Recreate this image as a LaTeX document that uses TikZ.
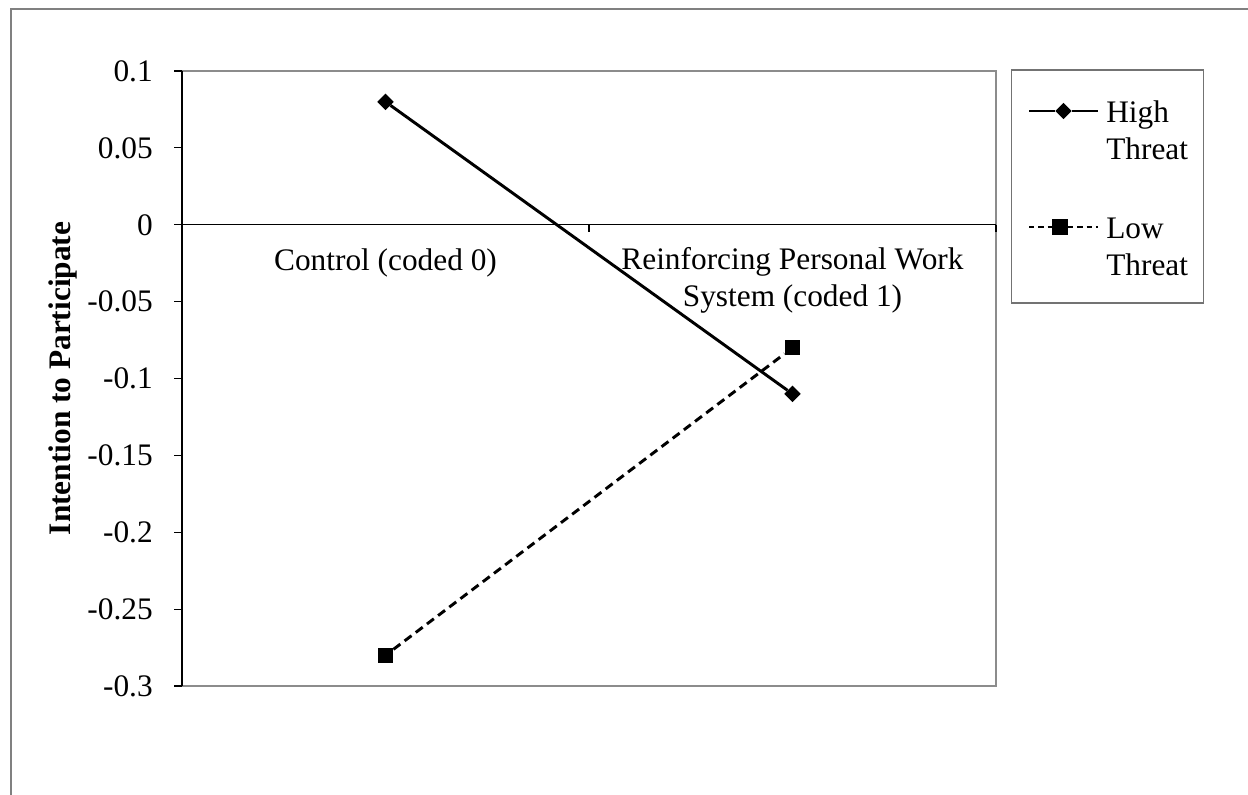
\documentclass[tikz,border=0pt]{standalone}
\usepackage{fontspec}
\setmainfont{Liberation Serif}
\usetikzlibrary{shapes.geometric}

\begin{document}
\begin{tikzpicture}[x=0.75pt, y=-0.75pt,
  every node/.style={font=\fontsize{23.5}{27.5}\selectfont, inner sep=0pt},
  frameline/.style={draw=black!50, line width=1.3pt},
  plotedge/.style={draw=black!45, line width=1.8pt},
  axisline/.style={draw=black, line width=0.8pt},
  series/.style={line width=2.2pt},
  lowseries/.style={series, dash pattern=on 6.5pt off 4pt},
  legenddash/.style={series, dash pattern=on 4pt off 3pt},
  hmark/.style={diamond, fill=black, minimum size=12.5pt},
  lmark/.style={rectangle, fill=black, minimum size=11.5pt},
  ticklabel/.style={anchor=east},
  catlabel/.style={align=center},
  legendtext/.style={anchor=west, align=left}
]
\useasboundingbox (0,0) rectangle (1248,795);

% outer chart frame (top and left edges)
\draw[frameline] (11,795) -- (11,9) -- (1248,9);

% plot area border
\draw[plotedge] (182,71) -- (996,71) -- (996,686) -- (182,686);

% value axis with ticks
\draw[axisline] (182,71) -- (182,686);
\foreach \yy in {71,147.9,224.8,301.6,378.5,455.4,532.3,609.1,686}
  \draw[axisline] (174,\yy) -- (182,\yy);

% category axis at zero with tick marks
\draw[axisline] (174,224.8) -- (996,224.8);
\draw[axisline] (589,224.8) -- (589,232);
\draw[axisline] (996,224.8) -- (996,232);

% tick labels
\node[ticklabel] (t1) at (153,71) {0.1};
\node[ticklabel] (t2) at (153,147.9) {0.05};
\node[ticklabel] (t3) at (153,224.8) {0};
\node[ticklabel] (t4) at (153,301.6) {-0.05};
\node[ticklabel] (t5) at (153,378.5) {-0.1};
\node[ticklabel] (t6) at (153,455.4) {-0.15};
\node[ticklabel] (t7) at (153,532.3) {-0.2};
\node[ticklabel] (t8) at (153,609.1) {-0.25};
\node[ticklabel] (t9) at (153,686) {-0.3};

% axis title
\node[rotate=90, font=\fontsize{23.5}{27.5}\selectfont\bfseries] (ytitle) at (63,378.5) {Intention to Participate};

% category labels
\node[catlabel] (c0) at (385.5,263) {Control (coded 0)};
\node[catlabel] (c1) at (792.5,280.5) {Reinforcing Personal Work\\System (coded 1)};

% data points
\node[hmark] (h0) at (385.5,101.8) {};
\node[hmark] (h1) at (792.5,393.9) {};
\node[lmark] (l0) at (385.5,655.3) {};
\node[lmark] (l1) at (792.5,347.8) {};

% series lines
\draw[series] (h0) -- (h1);
\draw[lowseries] (l0) -- (l1);

% legend
\draw[draw=black!55, line width=0.9pt] (1011.5,70) rectangle (1203.5,303);
\coordinate (lh0) at (1029,111);
\coordinate (lh1) at (1098,111);
\node[hmark] (lhm) at (1063.5,111) {};
\draw[series] (lh0) -- (lhm) -- (lh1);
\node[legendtext] (lht) at (1106,130) {High\\Threat};

\coordinate (ll0) at (1029,227);
\coordinate (ll1) at (1098,227);
\node[lmark] (llm) at (1060,227) {};
\draw[legenddash] (ll0) -- (llm);
\draw[legenddash] (llm) -- (ll1);
\node[legendtext] (llt) at (1106,247) {Low\\Threat};
\end{tikzpicture}
\end{document}
